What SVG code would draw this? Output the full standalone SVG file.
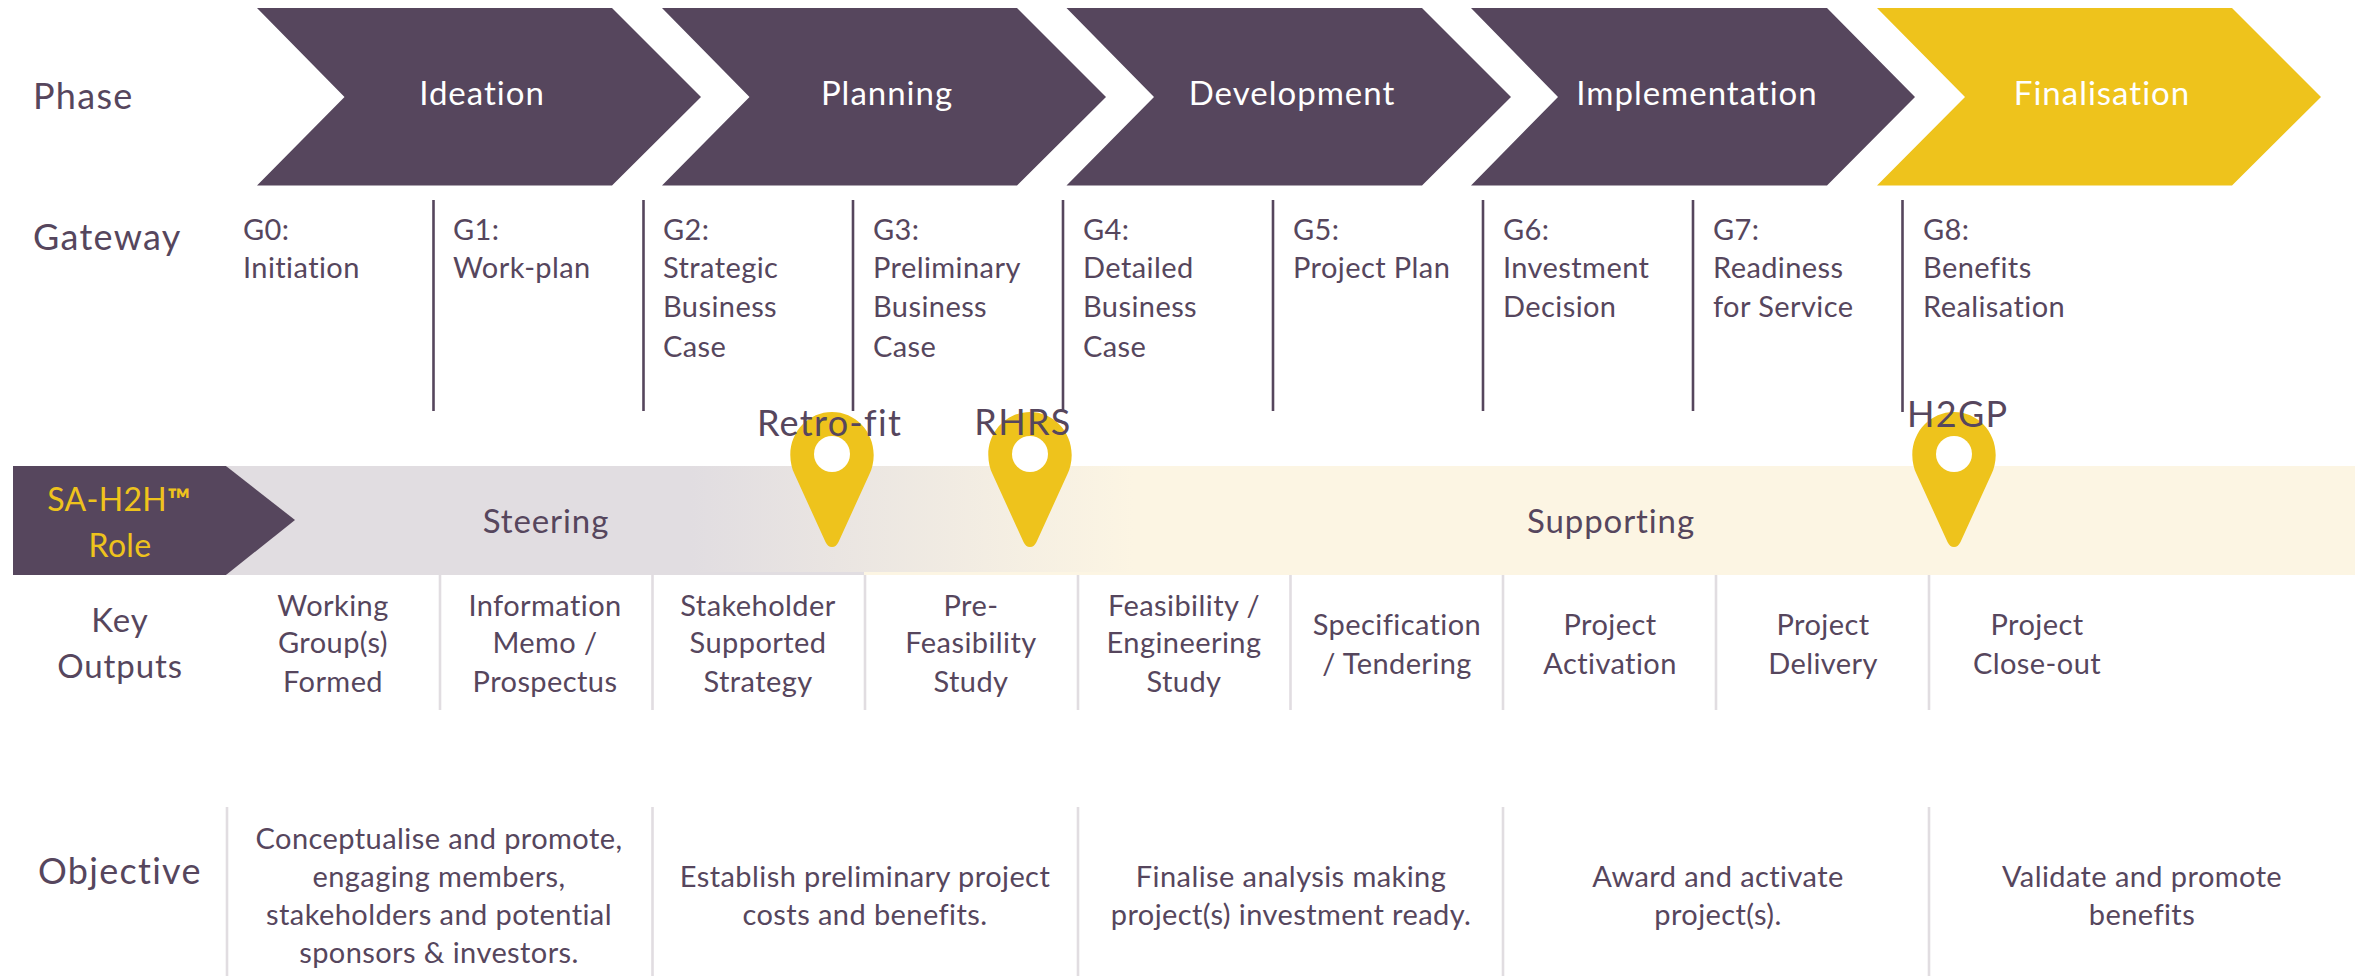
<svg xmlns="http://www.w3.org/2000/svg" width="2362" height="976" viewBox="0 0 2362 976">
<style>
text{font-family:"Lato","Carlito","Open Sans",sans-serif;fill:#56465d;font-size:29px;letter-spacing:.42px}
.c{text-anchor:middle}
.h{font-size:36px;letter-spacing:1.3px}
.m{font-size:33px;letter-spacing:.9px}
.p{fill:#fff;font-size:33px;text-anchor:middle;letter-spacing:1px}
.y{fill:#eec31c;font-size:32px;text-anchor:middle;letter-spacing:.3px}
.d{stroke:#56465d;stroke-width:2.6;fill:none}
.l{stroke:#e1dde1;stroke-width:2.6;fill:none}
.pin{fill:#eec31c}
</style>
<defs>
<linearGradient id="g" gradientUnits="userSpaceOnUse" x1="690" y1="0" x2="1133" y2="0"><stop offset="0" stop-color="#e1dde1"/><stop offset="1" stop-color="#fcf5e3"/></linearGradient>
<path id="pinshape" d="M0 135C-3 135-5 133-6.500 130L-37.500 62C-40 57-41.700 50-41.700 43C-41.700 19-23 0 0 0C23 0 41.700 19 41.700 43C41.700 50 40 57 37.500 62L6.500 130C5 133 3 135 0 135Z"/>
</defs>
<g id="row-labels">
<text class="h" x="33" y="109">Phase</text>
<text class="h" x="33" y="250">Gateway</text>
<text class="h" x="38" y="884">Objective</text>
<text class="m c" x="120" y="632">Key</text>
<text class="m c" x="120" y="678">Outputs</text>
</g>
<g id="phase-ideation"><path fill="#56465d" d="M257 8H612L701 97L612 185.500H257L344.500 97Z"/><text class="p" x="482" y="105">Ideation</text></g>
<g id="phase-planning"><path fill="#56465d" d="M662 8H1017L1106 97L1017 185.500H662L749.500 97Z"/><text class="p" x="887" y="105">Planning</text></g>
<g id="phase-development"><path fill="#56465d" d="M1066.500 8H1422L1511 97L1422 185.500H1066.500L1154 97Z"/><text class="p" x="1292" y="105">Development</text></g>
<g id="phase-implementation"><path fill="#56465d" d="M1471 8H1827L1915 97L1827 185.500H1471L1558 97Z"/><text class="p" x="1697" y="105">Implementation</text></g>
<g id="phase-finalisation"><path fill="#eec31c" d="M1877 8H2232L2321 97L2232 185.500H1877L1965 97Z"/><text class="p" x="2102" y="105">Finalisation</text></g>
<g id="connectors">
<path class="d" d="M433.500 200V411M643.500 200V411M853 200V411M1063 200V411M1273 200V411M1483 200V411M1693 200V411M1902.500 200V412"/>
<path class="l" d="M440 575V710M652.500 575V710M865 575V710M1078 575V710M1290.500 575V710M1503 575V710M1716 575V710M1929 575V710"/>
<path class="l" d="M227 807V976M652.500 807V976M1078 807V976M1503 807V976M1929 807V976"/>
</g>
<g id="gateways">
<text x="243" y="240">G0:</text><text x="243" y="278">Initiation</text>
<text x="453" y="240">G1:</text><text x="453" y="278">Work-plan</text>
<text x="663" y="240">G2:</text><text x="663" y="278">Strategic</text><text x="663" y="317">Business</text><text x="663" y="357">Case</text>
<text x="873" y="240">G3:</text><text x="873" y="278">Preliminary</text><text x="873" y="317">Business</text><text x="873" y="357">Case</text>
<text x="1083" y="240">G4:</text><text x="1083" y="278">Detailed</text><text x="1083" y="317">Business</text><text x="1083" y="357">Case</text>
<text x="1293" y="240">G5:</text><text x="1293" y="278">Project Plan</text>
<text x="1503" y="240">G6:</text><text x="1503" y="278">Investment</text><text x="1503" y="317">Decision</text>
<text x="1713" y="240">G7:</text><text x="1713" y="278">Readiness</text><text x="1713" y="317">for Service</text>
<text x="1923" y="240">G8:</text><text x="1923" y="278">Benefits</text><text x="1923" y="317">Realisation</text>
</g>
<g id="role-band">
<rect x="227" y="466" width="640" height="109" fill="#e1dde1"/>
<rect x="227" y="466" width="2128" height="106" fill="url(#g)"/>
<rect x="864" y="572" width="1491" height="3" fill="#fcf5e3"/>
<path fill="#56465d" d="M13 466H226L295 520L226 575H13Z"/>
<text class="y" x="119" y="511">SA-H2H<tspan font-size="31" font-weight="700">™</tspan></text><text class="y" x="120" y="557">Role</text>
<text class="m c" x="546" y="533">Steering</text>
<text class="m c" x="1611" y="533">Supporting</text>
</g>
<g id="pin-retrofit"><use href="#pinshape" x="832" y="412" class="pin"/><circle cx="832" cy="454" r="18" fill="#fff"/><text class="h c" x="829.500" y="436">Retro-fit</text></g>
<g id="pin-rhrs"><use href="#pinshape" x="1030" y="412" class="pin"/><circle cx="1030" cy="454" r="18" fill="#fff"/><text class="h c" x="1023" y="435">RHRS</text></g>
<g id="pin-h2gp"><use href="#pinshape" x="1954" y="412" class="pin"/><circle cx="1954" cy="454" r="18" fill="#fff"/><text class="h" x="1907" y="427">H2GP</text></g>
<g id="outputs">
<text class="c" x="333" y="616">Working</text><text class="c" x="333" y="653">Group(s)</text><text class="c" x="333" y="692">Formed</text>
<text class="c" x="545" y="616">Information</text><text class="c" x="545" y="653">Memo /</text><text class="c" x="545" y="692">Prospectus</text>
<text class="c" x="758" y="616">Stakeholder</text><text class="c" x="758" y="653">Supported</text><text class="c" x="758" y="692">Strategy</text>
<text class="c" x="971" y="616">Pre-</text><text class="c" x="971" y="653">Feasibility</text><text class="c" x="971" y="692">Study</text>
<text class="c" x="1184" y="616">Feasibility /</text><text class="c" x="1184" y="653">Engineering</text><text class="c" x="1184" y="692">Study</text>
<text class="c" x="1397" y="635">Specification</text><text class="c" x="1397" y="674">/ Tendering</text>
<text class="c" x="1610" y="635">Project</text><text class="c" x="1610" y="674">Activation</text>
<text class="c" x="1823" y="635">Project</text><text class="c" x="1823" y="674">Delivery</text>
<text class="c" x="2037" y="635">Project</text><text class="c" x="2037" y="674">Close-out</text>
</g>
<g id="objectives">
<text class="c" x="439" y="849">Conceptualise and promote,</text><text class="c" x="439" y="887">engaging members,</text><text class="c" x="439" y="925">stakeholders and potential</text><text class="c" x="439" y="963">sponsors &amp; investors.</text>
<text class="c" x="865" y="887">Establish preliminary project</text><text class="c" x="865" y="925">costs and benefits.</text>
<text class="c" x="1291" y="887">Finalise analysis making</text><text class="c" x="1291" y="925">project(s) investment ready.</text>
<text class="c" x="1718" y="887">Award and activate</text><text class="c" x="1718" y="925">project(s).</text>
<text class="c" x="2142" y="887">Validate and promote</text><text class="c" x="2142" y="925">benefits</text>
</g>
</svg>
